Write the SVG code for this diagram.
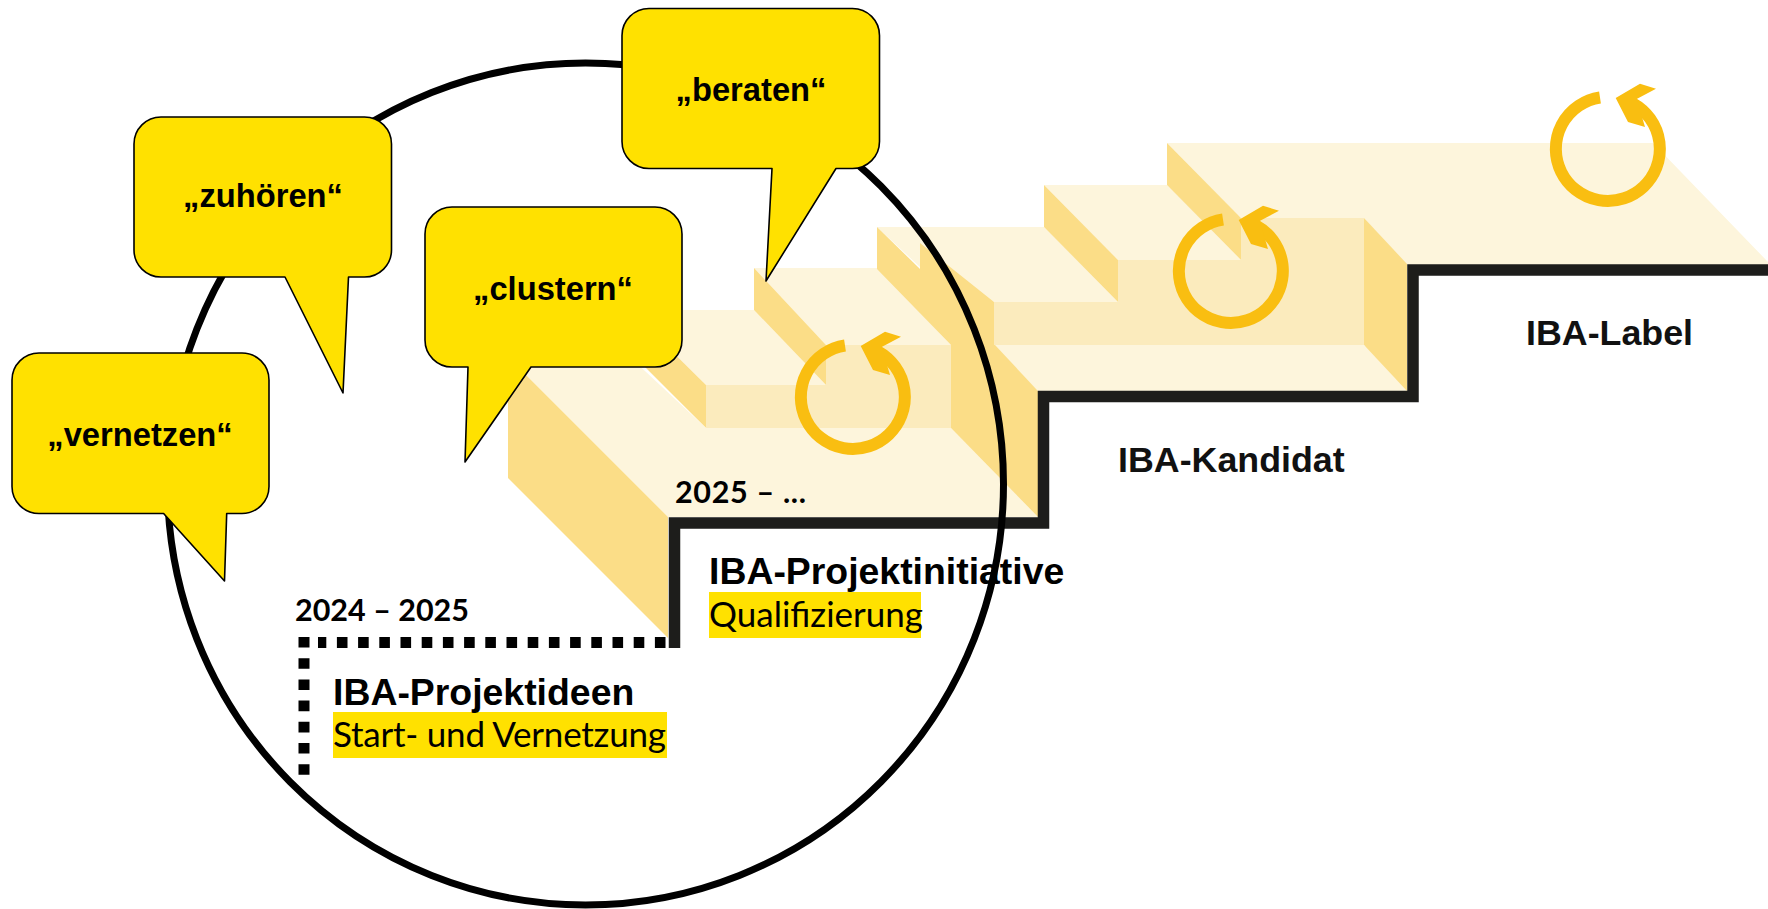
<svg xmlns="http://www.w3.org/2000/svg" width="1768" height="909" viewBox="0 0 1768 909">
<style>
.c{fill:#FDF5DC}.m{fill:#FBEBBD}.d{fill:#FBDD87}
.stair{fill:none;stroke:#1D1D1B;stroke-width:11.5;stroke-linejoin:miter}
.dots{fill:none;stroke:#000;stroke-width:11;stroke-dasharray:10.6 10.6}
.ring{fill:none;stroke:#F9BE11;stroke-width:12}
.head{fill:#F9BE11}
.bubble{fill:#FFE100;stroke:#000;stroke-width:1.6;stroke-linejoin:round}
.bt{font:bold 32.700px "Liberation Sans",Arial,sans-serif;text-anchor:middle;fill:#000}
.h{font:bold 37.400px "Liberation Sans",Arial,sans-serif;fill:#000}
.l{font:bold 35.800px "Liberation Sans",Arial,sans-serif;fill:#111}
.y{font:bold 30.500px Lato,"Open Sans",sans-serif;fill:#000}
.s{font:35px Lato,"Open Sans",sans-serif;fill:#000}
.hl{fill:#FFE100}
</style>
<defs>
<g id="loop">
<path class="ring" d="M845,345.500A52,52 0 1 0 878,351.400"/>
<path class="head" d="M860.700,346L885,331.700L901,336.700L881.700,347L890,375L873,370Z"/>
</g>
</defs>
<g id="stairs">
<path class="c" d="M1167,143H1653L1768,262V270H1407L1364,218H1241Z"/>
<path class="m" d="M994,302H1118V260H1241V218H1364V345H994Z"/>
<path class="d" d="M1364,218L1407,264V391H1395L1364,345Z"/>
<path class="c" d="M1044,185H1167L1241,260H1118Z"/>
<path class="d" d="M1167,143L1241,218V260L1167,185Z"/>
<path class="c" d="M877,227H1044L1118,302H994L921,268L877,227Z"/>
<path class="d" d="M1044,185L1118,260V302L1044,227Z"/>
<path class="c" d="M994,345H1364L1407,391H1038Z"/>
<path class="c" d="M754,268H877L951,345H826Z"/>
<path class="m" d="M826,345H951V428H706V385H826Z"/>
<path class="c" d="M630,310H754L826,385H706Z"/>
<path class="d" d="M754,268L826,345V385L754,310Z"/>
<path class="d" d="M630,310L706,385V428L630,352Z"/>
<path class="c" d="M508,357H630L706,428H951L1038,517H668Z"/>
<path class="d" d="M508,357L668,517V638L508,478Z"/>
<path class="d" d="M877,227L920,269H877Z"/>
<path class="d" d="M920,243L994,302V345H951L877,269H920Z"/>
<path class="d" d="M951,345H995L1038,391V517L951,428Z"/>
<path class="stair" d="M674.500,648V523H1043.500V396.500H1413V270H1768"/>
<path class="dots" d="M665.500,642.500H318"/>
<path class="dots" d="M304,637V776"/>
</g>
<g id="loop-1"><use href="#loop"/></g>
<g id="loop-2"><use href="#loop" transform="translate(378,-126)"/></g>
<g id="loop-3"><use href="#loop" transform="translate(755,-248)"/></g>
<g id="label-ideen">
<rect class="hl" x="333" y="712" width="334" height="46"/>
<text class="y" x="295" y="621" textLength="174">2024 – 2025</text>
<text class="h" x="333" y="705">IBA-Projektideen</text>
<text class="s" x="333" y="747" textLength="333">Start- und Vernetzung</text>
</g>
<g id="label-initiative">
<rect class="hl" x="709" y="592" width="212" height="46"/>
<text class="y" x="675" y="503" textLength="131">2025 – ...</text>
<text class="h" x="709" y="584">IBA-Projektinitiative</text>
<text class="s" x="709" y="627">Qualifizierung</text>
</g>
<g id="label-kandidat"><text class="l" x="1118" y="472">IBA-Kandidat</text></g>
<g id="label-label"><text class="l" x="1526" y="345">IBA-Label</text></g>
<g id="connectors">
<ellipse cx="585.500" cy="484" rx="418" ry="421" fill="none" stroke="#000" stroke-width="7"/>
</g>
<g id="bubble-beraten">
<path class="bubble" d="M649,8.500H852.500A27,27 0 0 1 879.500,35.500V141.500A27,27 0 0 1 852.500,168.500H836L766,281L772,168.500H649A27,27 0 0 1 622,141.500V35.500A27,27 0 0 1 649,8.500Z"/>
<text class="bt" x="751" y="101">„beraten“</text>
</g>
<g id="bubble-zuhoeren">
<path class="bubble" d="M161,117H364.500A27,27 0 0 1 391.500,144V250A27,27 0 0 1 364.500,277H348.500L343,393L285,277H161A27,27 0 0 1 134,250V144A27,27 0 0 1 161,117Z"/>
<text class="bt" x="263" y="207">„zuhören“</text>
</g>
<g id="bubble-clustern">
<path class="bubble" d="M452,207H655A27,27 0 0 1 682,234V340A27,27 0 0 1 655,367H531L465,462L468,367H452A27,27 0 0 1 425,340V234A27,27 0 0 1 452,207Z"/>
<text class="bt" x="553" y="300">„clustern“</text>
</g>
<g id="bubble-vernetzen">
<path class="bubble" d="M39,353H242A27,27 0 0 1 269,380V486.500A27,27 0 0 1 242,513.500H226.700L224.500,581L163.600,513.500H39A27,27 0 0 1 12,486.500V380A27,27 0 0 1 39,353Z"/>
<text class="bt" x="140" y="446">„vernetzen“</text>
</g>
</svg>
